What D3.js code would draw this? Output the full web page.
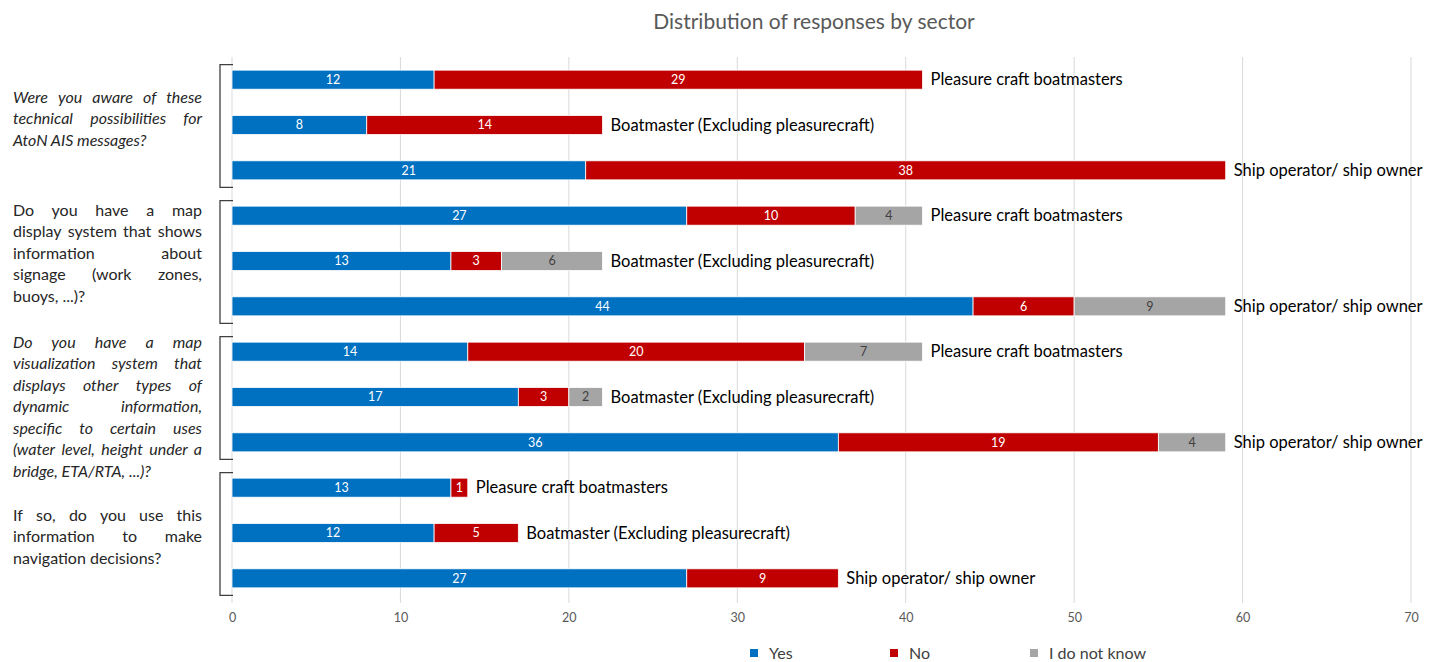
<!DOCTYPE html>
<html>
<head>
<meta charset="utf-8">
<script src="https://cdn.jsdelivr.net/npm/d3@7"></script>
<style>
  body { margin: 0; background: #fff; }
  svg { font-family: Lato, "Open Sans", sans-serif; }
</style>
</head>
<body>
<svg id="chart" width="1437" height="662"></svg>
<script>
// data
var sectors = ["Pleasure craft boatmasters", "Boatmaster (Excluding pleasurecraft)", "Ship operator/ ship owner"];
var answers = ["Yes", "No", "I do not know"];
var colors = ["#0070C0", "#C00000", "#A5A5A5"];

var yesValues   = [12, 8, 21,  27, 13, 44,  14, 17, 36,  13, 12, 27];
var noValues    = [29, 14, 38, 10, 3, 6,    20, 3, 19,   1, 5, 9];
var dunnoValues = [0, 0, 0,    4, 6, 9,     7, 2, 4,     0, 0, 0];

var questions = [
  { italic: true, lines: ["Were you aware of these", "technical possibilities for", "AtoN AIS messages?"] },
  { italic: false, lines: ["Do you have a map", "display system that shows", "information about", "signage (work zones,", "buoys, ...)?"] },
  { italic: true, lines: ["Do you have a map", "visualization system that", "displays other types of", "dynamic information,", "specific to certain uses", "(water level, height under a", "bridge, ETA/RTA, ...)?"] },
  { italic: false, lines: ["If so, do you use this", "information to make", "navigation decisions?"] }
];
var questionTops = [97, 210, 342, 515];

var xTicks = [0, 10, 20, 30, 40, 50, 60, 70];

var rows = yesValues.map(function(d, i) {
  return { i: i, sector: sectors[i % 3], vals: [yesValues[i], noValues[i], dunnoValues[i]] };
});

var svg = d3.select("#chart");

var x = d3.scaleLinear().domain([0, 70]).range([232, 1411]);
var y = d3.scaleBand().domain(d3.range(12)).range([57, 601]).paddingInner(0.58).paddingOuter(0.29);

// title
svg.append("text")
  .attr("x", 814).attr("y", 29)
  .attr("text-anchor", "middle")
  .attr("font-size", 21).attr("fill", "#595959")
  .text("Distribution of responses by sector");

// gridlines
svg.append("g").selectAll("line").data(xTicks).join("line")
  .attr("x1", d => x(d)).attr("x2", d => x(d))
  .attr("y1", 57).attr("y2", 603)
  .attr("stroke", "#D9D9D9").attr("stroke-width", 1);

// tick labels
var xAxis = svg.append("g").attr("transform", "translate(0,603)")
  .call(d3.axisBottom(x).tickValues(xTicks).tickSize(0).tickPadding(10));
xAxis.select(".domain").remove();
xAxis.selectAll("text").attr("font-size", 12.5).attr("fill", "#595959").attr("font-family", "Lato, sans-serif");

// bars
var rowG = svg.append("g").selectAll("g").data(rows).join("g");

rowG.each(function(r) {
  var g = d3.select(this);
  var start = 0;
  var segs = r.vals.map(function(v, k) {
    var s = { k: k, v: v, x0: start, x1: start + v };
    start += v;
    return s;
  }).filter(s => s.v > 0);

  g.selectAll("rect").data(segs).join("rect")
    .attr("x", s => x(s.x0)).attr("width", s => x(s.x1) - x(s.x0))
    .attr("y", y(r.i)).attr("height", y.bandwidth())
    .attr("fill", s => colors[s.k])
    .attr("stroke", "#fff").attr("stroke-width", 0.8);

  g.selectAll("text.val").data(segs).join("text")
    .attr("class", "val")
    .attr("x", s => (x(s.x0) + x(s.x1)) / 2)
    .attr("y", y(r.i) + y.bandwidth() / 2)
    .attr("dy", "0.35em")
    .attr("text-anchor", "middle")
    .attr("font-size", 12.5)
    .attr("fill", s => s.k === 2 ? "#404040" : "#fff")
    .text(s => s.v);

  g.append("text")
    .attr("x", x(start) + 8)
    .attr("y", y(r.i) + y.bandwidth() / 2)
    .attr("dy", "0.35em")
    .attr("font-size", 16.5).attr("fill", "#000")
    .text(r.sector);
});

// brackets
svg.append("g").selectAll("path").data(d3.range(4)).join("path")
  .attr("d", function(q) {
    var top = y(q * 3) + y.bandwidth() / 2 - 15;
    var bot = y(q * 3 + 2) + y.bandwidth() / 2 + 17;
    return "M233," + top + "H220V" + bot + "H233";
  })
  .attr("fill", "none").attr("stroke", "#404040").attr("stroke-width", 1.3);

// question texts, justified line by line
var qLeft = 13, qWidth = 189, lineH = 21.5;
questions.forEach(function(q, qi) {
  var g = svg.append("g")
    .attr("font-size", 16).attr("fill", "#262626")
    .attr("font-style", q.italic ? "italic" : "normal");
  q.lines.forEach(function(line, li) {
    var yy = questionTops[qi] + li * lineH;
    var words = line.split(" ");
    var last = li === q.lines.length - 1;
    var t = g.append("text").attr("y", yy).attr("dy", "0.35em");
    if (last || words.length === 1) {
      t.attr("x", qLeft).text(line);
      return;
    }
    var spans = words.map(w => t.append("tspan").text(w));
    var widths = spans.map(s => s.node().getComputedTextLength());
    var total = d3.sum(widths);
    var gap = (qWidth - total) / (words.length - 1);
    var cx = qLeft;
    spans.forEach(function(s, k) {
      if (k === spans.length - 1) {
        s.attr("x", qLeft + qWidth).attr("text-anchor", "end");
      } else {
        s.attr("x", cx);
      }
      cx += widths[k] + gap;
    });
  });
});

// legend
var legend = svg.append("g").selectAll("g").data(answers).join("g")
  .attr("transform", (d, i) => "translate(" + (750 + i * 140) + ",653)");
legend.append("rect").attr("x", 0).attr("y", -4).attr("width", 8).attr("height", 8)
  .attr("fill", (d, i) => colors[i]);
legend.append("text").attr("x", 19).attr("dy", "0.35em")
  .attr("font-size", 16).attr("fill", "#404040").text(d => d);
</script>
</body>
</html>
